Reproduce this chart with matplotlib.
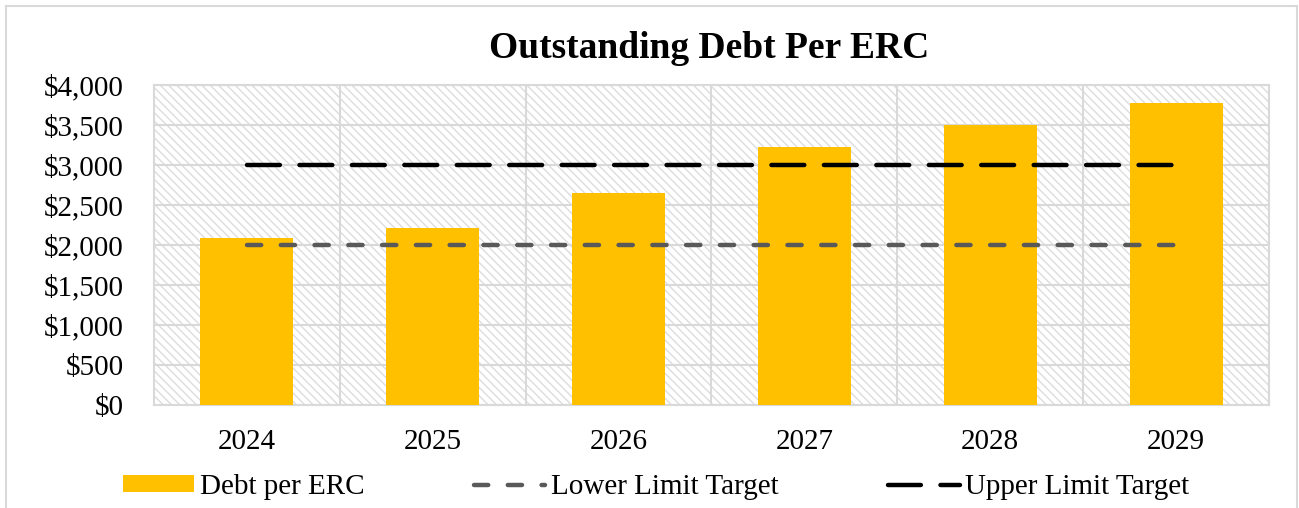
import matplotlib
matplotlib.use("Agg")
import matplotlib.pyplot as plt
from matplotlib.patches import Rectangle
from matplotlib.lines import Line2D
from matplotlib.patches import Patch
from matplotlib.ticker import FuncFormatter, MultipleLocator

years = ["2024", "2025", "2026", "2027", "2028", "2029"]
debt_per_erc = [2090, 2212, 2650, 3225, 3500, 3775]
lower_limit = [2000, 2000, 2000, 2000, 2000, 2000]
upper_limit = [3000, 3000, 3000, 3000, 3000, 3000]

BAR_COLOR = "#FFC000"
LOWER_COLOR = "#595959"
UPPER_COLOR = "#000000"
GRID_COLOR = "#D9D9D9"

plt.rcParams["font.family"] = ["Liberation Serif", "DejaVu Serif"]
plt.rcParams["hatch.color"] = "#DCDCDC"
plt.rcParams["hatch.linewidth"] = 1.0

fig = plt.figure(figsize=(12.99, 5.08), dpi=100)
W, H = 1299, 508
ax = fig.add_axes([154 / W, 1 - 405 / H, (1269 - 154) / W, (405 - 85) / H])

# hatched plot-area background
ax.add_patch(Rectangle((0, 0), 1, 1, transform=ax.transAxes, facecolor="white",
                       edgecolor="#DCDCDC", hatch="\\\\\\\\", linewidth=0, zorder=0))

x = list(range(len(years)))
ax.bar(x, debt_per_erc, width=0.5, color=BAR_COLOR, zorder=3)
ax.plot(x, lower_limit, color=LOWER_COLOR, lw=3.2, dashes=(3.2, 4.4),
        dash_capstyle="round", zorder=4)
ax.plot(x, upper_limit, color=UPPER_COLOR, lw=3.2, dashes=(7.4, 4.4),
        dash_capstyle="round", zorder=4)

ax.set_xlim(-0.5, len(years) - 0.5)
ax.set_ylim(0, 4000)
ax.yaxis.set_major_locator(MultipleLocator(500))
ax.yaxis.set_major_formatter(FuncFormatter(lambda v, p: f"${v:,.0f}"))
ax.set_xticks(x)
ax.set_xticklabels(years)

# gridlines: horizontal at every tick, vertical between categories
for v in range(0, 4001, 500):
    ax.axhline(v, color=GRID_COLOR, lw=1.5, zorder=1)
for b in [i + 0.5 for i in range(len(years) - 1)]:
    ax.axvline(b, color=GRID_COLOR, lw=1.5, zorder=1)

for s in ax.spines.values():
    s.set_color(GRID_COLOR)
    s.set_linewidth(1.5)
ax.tick_params(axis="both", length=0, labelsize=21, colors="black")
ax.tick_params(axis="y", pad=22)
ax.tick_params(axis="x", pad=17)

fig.text(709 / W, 1 - 48 / H, "Outstanding Debt Per ERC", ha="center", va="center",
         fontsize=27, fontweight="bold")

handles = [
    Patch(facecolor=BAR_COLOR, edgecolor="none"),
    Line2D([], [], color=LOWER_COLOR, lw=3.2, dashes=(3.2, 4.4), dash_capstyle="round"),
    Line2D([], [], color=UPPER_COLOR, lw=3.2, dashes=(7.4, 4.4), dash_capstyle="round"),
]
labels = ["Debt per ERC", "Lower Limit Target", "Upper Limit Target"]
fig.legend(handles, labels, loc="center", bbox_to_anchor=(656 / W, 1 - 487 / H),
           ncol=3, frameon=False, fontsize=21, handlelength=2.45, handleheight=0.5,
           handletextpad=0.2, columnspacing=3.75, borderpad=0)

# outer chart border
fig.patches.append(Rectangle((6 / W, -0.05), (1297 - 6) / W, 1 - 6 / H + 0.05,
                             transform=fig.transFigure, fill=False,
                             edgecolor=GRID_COLOR, lw=1.5))

fig.savefig("out.png", dpi=100)
